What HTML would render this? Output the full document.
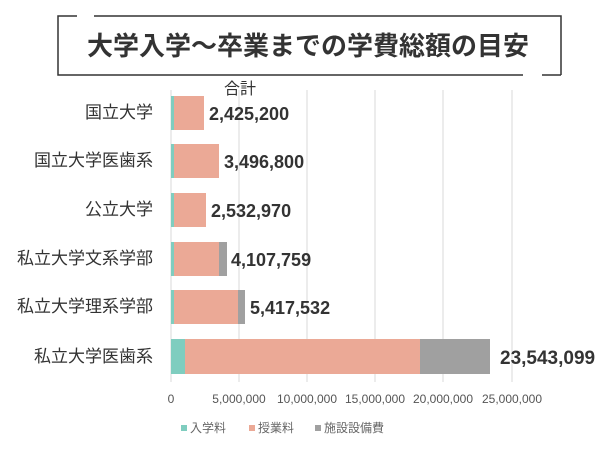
<!DOCTYPE html>
<html><head><meta charset="utf-8"><style>
body{margin:0;background:#fff;}
svg text{font-family:"Liberation Sans","Noto Sans CJK JP",sans-serif;}
</style></head><body>
<svg width="600" height="450" xmlns="http://www.w3.org/2000/svg">
<rect width="600" height="450" fill="#fff"/>
<path d="M94 16 H561 V75 M542 75 H561 M523 75 H58 V16 H77" fill="none" stroke="#333" stroke-width="1.5"/>
<text x="308" y="55" font-size="26" font-weight="bold" fill="#333" text-anchor="middle">大学入学～卒業までの学費総額の目安</text>
<g stroke="#d9d9d9" stroke-width="1">
<line x1="171" y1="90" x2="171" y2="382"/><line x1="239" y1="90" x2="239" y2="382"/><line x1="307" y1="90" x2="307" y2="382"/><line x1="375" y1="90" x2="375" y2="382"/><line x1="443" y1="90" x2="443" y2="382"/><line x1="512" y1="90" x2="512" y2="382"/>
</g>
<text x="240" y="94" font-size="16" fill="#333" text-anchor="middle">合計</text>
<g font-size="17" fill="#333" text-anchor="end">
<text x="153" y="118">国立大学</text>
<text x="153" y="166">国立大学医歯系</text>
<text x="153" y="215">公立大学</text>
<text x="153" y="264">私立大学文系学部</text>
<text x="153" y="312">私立大学理系学部</text>
<text x="153" y="362">私立大学医歯系</text>
</g>
<g>
<rect x="171" y="96" width="3" height="34" fill="#7fcdbf"/><rect x="174" y="96" width="30" height="34" fill="#eba996"/>
<rect x="171" y="144" width="3" height="34" fill="#7fcdbf"/><rect x="174" y="144" width="45" height="34" fill="#eba996"/>
<rect x="171" y="193" width="3" height="34" fill="#7fcdbf"/><rect x="174" y="193" width="32" height="34" fill="#eba996"/>
<rect x="171" y="242" width="3" height="34" fill="#7fcdbf"/><rect x="174" y="242" width="45" height="34" fill="#eba996"/><rect x="219" y="242" width="8" height="34" fill="#a0a0a0"/>
<rect x="171" y="290" width="3" height="34" fill="#7fcdbf"/><rect x="174" y="290" width="64" height="34" fill="#eba996"/><rect x="238" y="290" width="7" height="34" fill="#a0a0a0"/>
<rect x="171" y="339" width="14" height="35" fill="#7fcdbf"/><rect x="185" y="339" width="235" height="35" fill="#eba996"/><rect x="420" y="339" width="70" height="35" fill="#a0a0a0"/>
</g>
<g font-size="18" font-weight="bold" fill="#333">
<text x="209" y="120">2,425,200</text>
<text x="224" y="168">3,496,800</text>
<text x="211" y="217">2,532,970</text>
<text x="231" y="266">4,107,759</text>
<text x="250" y="314">5,417,532</text>
<text x="500" y="364" font-size="19">23,543,099</text>
</g>
<g font-size="12" fill="#555" text-anchor="middle">
<text x="171" y="403">0</text><text x="239" y="403">5,000,000</text><text x="307" y="403">10,000,000</text><text x="375" y="403">15,000,000</text><text x="443" y="403">20,000,000</text><text x="512" y="403">25,000,000</text>
</g>
<g font-size="12" fill="#666">
<rect x="181" y="425" width="6" height="6" fill="#7fcdbf"/><text x="190" y="432">入学料</text>
<rect x="249" y="425" width="6" height="6" fill="#eba996"/><text x="258" y="432">授業料</text>
<rect x="315" y="425" width="6" height="6" fill="#a0a0a0"/><text x="324" y="432">施設設備費</text>
</g>
</svg>
</body></html>
